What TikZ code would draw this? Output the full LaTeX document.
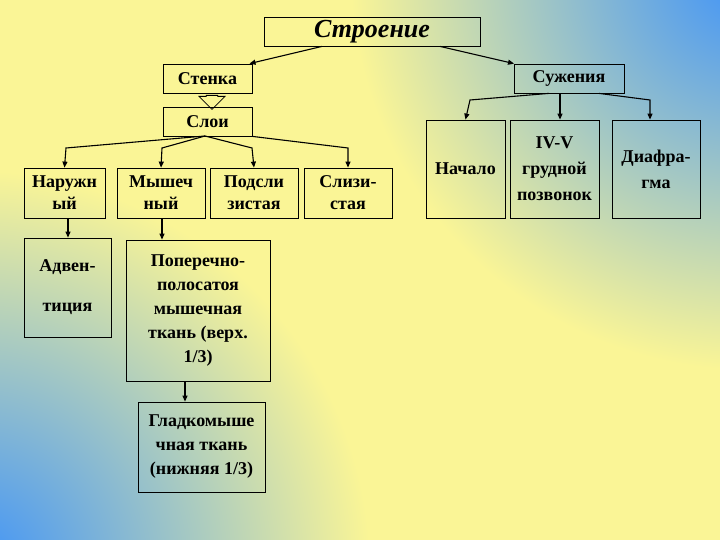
\documentclass[tikz,border=0pt]{standalone}
\usepackage{fontspec}
\setmainfont{Liberation Serif}
\usetikzlibrary{arrows.meta,shapes.arrows}
\definecolor{bg}{RGB}{250,245,150}
\definecolor{bl}{RGB}{60,145,250}
\begin{document}
\begin{tikzpicture}[x=1pt,y=-1pt,
  bx/.style={draw=black,line width=0.8pt,align=center,inner sep=0pt,font=\bfseries\fontsize{18}{24}\selectfont},
  ar/.style={-{Triangle[length=6pt,width=5pt]},line width=1.1pt}]
\useasboundingbox (0,0) rectangle (720,540);
\fill[bg] (0,0) rectangle (720,540);
\begin{scope}
\clip (0,0) rectangle (720,540);
\shade[inner color=bl,outer color=bg] (750,-30) circle (400);
\shade[inner color=bl,outer color=bg] (-30,570) circle (400);
\end{scope}
\node[bx,minimum width=216,minimum height=29,font=\bfseries\itshape\fontsize{26}{28}\selectfont] (s) at (372,31.5) {Строение};
\node[bx,minimum width=89,minimum height=29] (st) at (207.5,78.5) {Стенка};
\node[bx,minimum width=110,minimum height=29] (su) at (569,78.5) {Сужения};
\node[bx,minimum width=89,minimum height=29] (sl) at (207.5,121.5) {Слои};
\node[bx,minimum width=81,minimum height=50,font=\bfseries\fontsize{18}{22}\selectfont] (n1) at (64.5,193) {Наружн\\ый};
\node[bx,minimum width=88,minimum height=50,font=\bfseries\fontsize{18}{22}\selectfont] (n2) at (161,193) {Мышеч\\ный};
\node[bx,minimum width=88,minimum height=50,font=\bfseries\fontsize{18}{22}\selectfont] (n3) at (254,193) {Подсли\\зистая};
\node[bx,minimum width=88,minimum height=50,font=\bfseries\fontsize{18}{22}\selectfont] (n4) at (348,193) {Слизи-\\стая};
\node[bx,minimum width=87,minimum height=99,font=\bfseries\fontsize{18}{40}\selectfont] (a1) at (67.5,287.5) {Адвен-\\тиция};
\node[bx,minimum width=144,minimum height=141] (a2) at (198,310.5) {Поперечно-\\полосатоя\\мышечная\\ткань (верх.\\1/3)};
\node[bx,minimum width=127,minimum height=90] (a3) at (201.5,447) {Гладкомыше\\чная ткань\\(нижняя 1/3)};
\node[bx,minimum width=79,minimum height=98] (r1) at (465.5,169) {Начало};
\node[bx,minimum width=89,minimum height=98,font=\bfseries\fontsize{18}{26}\selectfont] (r2) at (554.5,169) {IV-V\\грудной\\позвонок};
\node[bx,minimum width=88,minimum height=98,font=\bfseries\fontsize{18}{26}\selectfont] (r3) at (656,169) {Диафра-\\гма};
\draw[ar] ([xshift=-50pt]s.south) -- ([xshift=42pt]st.north);
\draw[ar] ([xshift=68pt]s.south) -- ([xshift=-55pt]su.north);
\node[single arrow,shape border rotate=270,draw=black,line width=0.8pt,minimum width=26pt,single arrow head extend=3pt,single arrow head indent=0pt,minimum height=14pt,inner sep=2pt] (ha) at (212,99.5) {};
\coordinate (f) at (205,136);
\draw[ar] (f) -- (66,148) -- (n1.north);
\draw[ar] (f) -- (162,148) -- (n2.north);
\draw[ar] (f) -- (252,148) -- (n3.north);
\draw[ar] (sl.south east) -- (348,148) -- (n4.north);
\draw[ar] ([xshift=-20pt]su.south) -- (470,100) -- (r1.north);
\draw[ar] ([xshift=-9pt]su.south) -- ([xshift=5.5pt]r2.north);
\draw[ar] ([xshift=30pt]su.south) -- (650,100) -- ([xshift=-6pt]r3.north);
\draw[ar] ([xshift=3.5pt]n1.south) -- ([xshift=0.5pt]a1.north);
\draw[ar] ([xshift=1pt]n2.south) -- ([xshift=-36pt]a2.north);
\draw[ar] ([xshift=-13pt]a2.south) -- ([xshift=-16.5pt]a3.north);
\end{tikzpicture}
\end{document}
